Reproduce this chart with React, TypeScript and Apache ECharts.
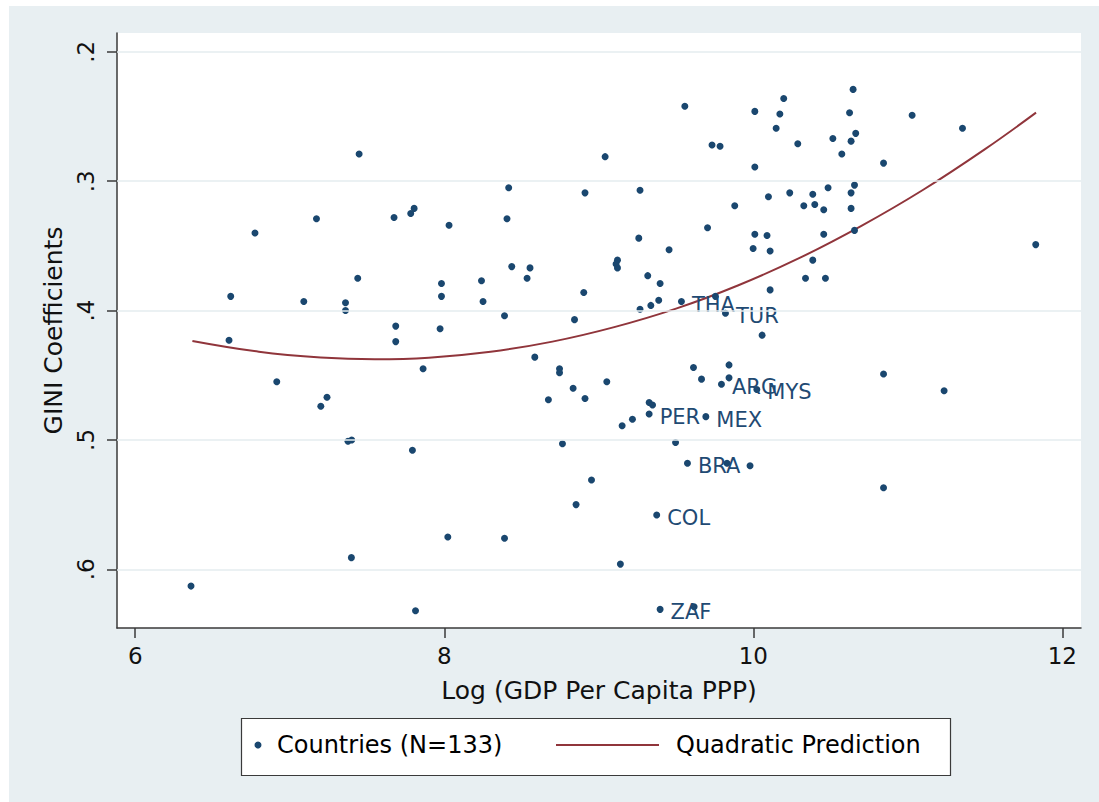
import React, { useEffect, useRef } from "react";
import * as echarts from "echarts";

const FONT = "DejaVu Sans";

const seriesNames = ["Countries (N=133)", "Quadratic Prediction"];
const xTitle = "Log (GDP Per Capita PPP)";
const yTitle = "GINI Coefficients";

const xTicks = [6, 8, 10, 12];
const yTicks = [0.2, 0.3, 0.4, 0.5, 0.6];
const yTickLabels = [".2", ".3", ".4", ".5", ".6"];

// Log GDP per capita (PPP)
const gdp = [
  7.449, 6.775, 7.173, 7.675, 7.783, 7.805, 8.031, 7.44, 6.618, 7.091,
  7.361, 7.361, 7.982, 7.982, 9.557, 10.01, 10.172, 10.148, 9.733, 9.785,
  10.01, 9.041, 8.417, 8.911, 9.267, 10.098, 9.88, 8.406, 9.704, 10.01,
  10.089, 9.999, 10.109, 9.259, 9.455, 8.437, 8.555, 8.536, 8.241, 8.251,
  8.39, 9.121, 9.112, 9.121, 9.317, 9.397, 8.903, 9.388, 9.337, 9.267,
  9.535, 10.109, 8.843, 9.755, 9.82, 10.646, 10.197, 10.623, 11.028, 11.354,
  10.663, 10.515, 10.633, 10.288, 10.573, 10.843, 10.655, 10.236, 10.385, 10.484,
  10.633, 10.327, 10.398, 10.456, 10.633, 10.456, 10.655, 10.385, 10.338, 10.467,
  11.828, 7.686, 7.973, 6.607, 7.686, 7.863, 6.916, 7.241, 7.201, 7.377,
  7.401, 7.794, 8.023, 7.399, 6.361, 7.814, 10.057, 8.586, 8.746, 8.746,
  9.613, 9.843, 9.665, 9.843, 9.794, 10.023, 9.052, 8.834, 8.674, 8.911,
  9.326, 9.348, 9.326, 9.218, 9.151, 9.693, 8.765, 9.497, 9.574, 9.83,
  9.979, 8.953, 8.853, 9.375, 8.39, 9.14, 9.397, 9.617, 10.843, 11.235,
  10.843,
];

// GINI coefficients
const gini = [
  0.279, 0.34, 0.329, 0.328, 0.325, 0.321, 0.334, 0.375, 0.389, 0.393,
  0.394, 0.4, 0.379, 0.389, 0.242, 0.246, 0.248, 0.259, 0.272, 0.273,
  0.289, 0.281, 0.305, 0.309, 0.307, 0.312, 0.319, 0.329, 0.336, 0.341,
  0.342, 0.352, 0.354, 0.344, 0.353, 0.366, 0.367, 0.375, 0.377, 0.393,
  0.404, 0.361, 0.364, 0.367, 0.373, 0.379, 0.386, 0.392, 0.396, 0.399,
  0.393, 0.384, 0.407, 0.389, 0.402, 0.229, 0.236, 0.247, 0.249, 0.259,
  0.263, 0.267, 0.269, 0.271, 0.279, 0.286, 0.303, 0.309, 0.31, 0.305,
  0.309, 0.319, 0.318, 0.322, 0.321, 0.341, 0.338, 0.361, 0.375, 0.375,
  0.349, 0.412, 0.414, 0.423, 0.424, 0.445, 0.455, 0.467, 0.474, 0.501,
  0.5, 0.508, 0.575, 0.591, 0.613, 0.632, 0.419, 0.436, 0.445, 0.448,
  0.444, 0.442, 0.453, 0.452, 0.457, 0.461, 0.455, 0.46, 0.469, 0.468,
  0.471, 0.473, 0.48, 0.484, 0.489, 0.482, 0.503, 0.502, 0.518, 0.518,
  0.52, 0.531, 0.55, 0.558, 0.576, 0.596, 0.631, 0.629, 0.449, 0.462,
  0.537,
];

// Country codes shown as marker labels ("" = unlabelled)
const codes = [
  "", "", "", "", "", "", "", "", "", "",
  "", "", "", "", "", "", "", "", "", "",
  "", "", "", "", "", "", "", "", "", "",
  "", "", "", "", "", "", "", "", "", "",
  "", "", "", "", "", "", "", "", "", "",
  "THA", "", "", "", "TUR", "", "", "", "", "",
  "", "", "", "", "", "", "", "", "", "",
  "", "", "", "", "", "", "", "", "", "",
  "", "", "", "", "", "", "", "", "", "",
  "", "", "", "", "", "", "", "", "", "",
  "", "", "", "", "ARG", "MYS", "", "", "", "",
  "", "", "PER", "", "", "MEX", "", "", "BRA", "",
  "", "", "", "COL", "", "", "ZAF", "", "", "",
  "",
];

// Quadratic prediction curve
const curveGdp = [6.37, 6.8, 7.2, 7.55, 7.9, 8.3, 8.7, 9.1, 9.5, 9.9, 10.3, 10.7, 11.1, 11.5, 11.83];
const curveGini = [0.4235, 0.4318, 0.4362, 0.4376, 0.4364, 0.4318, 0.424, 0.4128, 0.3985, 0.3806, 0.3593, 0.3345, 0.3066, 0.2752, 0.247];

export default function App() {
  const ref = useRef<HTMLDivElement>(null);

  useEffect(() => {
    if (!ref.current) return;
    const chart = echarts.init(ref.current, undefined, { renderer: "svg" });

    const points = gdp.map((x, i) => ({
      value: [x, gini[i]],
      name: codes[i],
      label: { show: codes[i] !== "" },
    }));
    const curve = curveGdp.map((x, i) => [x, curveGini[i]]);

    const axisColor = "#3a3a3a";
    const textColor = "#111";

    chart.setOption({
      animation: false,
      backgroundColor: "#ffffff",
      graphic: [
        {
          type: "rect",
          silent: true,
          z: -10,
          shape: { x: 9, y: 6, width: 1090, height: 796 },
          style: { fill: "#e8eff2" },
        },
        {
          type: "rect",
          silent: true,
          z: 1,
          shape: { x: 241.5, y: 718.5, width: 709, height: 57 },
          style: { fill: "#ffffff", stroke: "#3a3a3a", lineWidth: 1.2 },
        },
      ],
      grid: {
        left: 117,
        top: 33,
        width: 964,
        height: 595,
        show: true,
        backgroundColor: "#ffffff",
        borderWidth: 0,
      },
      legend: [
        {
          data: [{ name: seriesNames[0], icon: "circle" }],
          selectedMode: false,
          left: 254.5,
          top: 731,
          padding: 0,
          itemWidth: 20,
          itemHeight: 7,
          textStyle: { fontFamily: FONT, fontSize: 24, color: "#000", lineHeight: 28, padding: [0, 0, 0, 4] },
          z: 5,
        },
        {
          data: [{ name: seriesNames[1], icon: "rect" }],
          selectedMode: false,
          left: 556,
          top: 731,
          padding: 0,
          itemWidth: 103,
          itemHeight: 2,
          textStyle: { fontFamily: FONT, fontSize: 24, color: "#000", lineHeight: 28, padding: [0, 0, 0, 12] },
          z: 5,
        },
      ],
      xAxis: {
        type: "value",
        min: 5.882,
        max: 12.121,
        axisLine: { show: true, onZero: false, lineStyle: { color: axisColor, width: 1.5 } },
        axisTick: { show: true, length: 10, customValues: xTicks, lineStyle: { color: axisColor, width: 1.5 } },
        axisLabel: { customValues: xTicks, fontFamily: FONT, fontSize: 23, color: textColor, margin: 16 },
        splitLine: { show: false },
        name: xTitle,
        nameLocation: "middle",
        nameGap: 50,
        nameTextStyle: { fontFamily: FONT, fontSize: 25, color: textColor },
      },
      yAxis: {
        type: "value",
        inverse: true,
        min: 0.1854,
        max: 0.6454,
        axisLine: { show: true, onZero: false, lineStyle: { color: axisColor, width: 1.5 } },
        axisTick: { show: true, length: 10, customValues: yTicks, lineStyle: { color: axisColor, width: 1.5 } },
        axisLabel: {
          customValues: yTicks,
          rotate: 90,
          fontFamily: FONT,
          fontSize: 23,
          color: textColor,
          margin: 20,
          formatter: (v: number) => {
            const i = yTicks.findIndex((t) => Math.abs(t - v) < 1e-6);
            return i >= 0 ? yTickLabels[i] : "";
          },
        },
        splitLine: { show: false },
        name: yTitle,
        nameLocation: "middle",
        nameGap: 51,
        nameTextStyle: { fontFamily: FONT, fontSize: 25, color: textColor },
      },
      series: [
        {
          name: "gridlines",
          type: "line",
          data: [],
          z: 1,
          silent: true,
          markLine: {
            silent: true,
            symbol: "none",
            label: { show: false },
            lineStyle: { color: "#e4ecef", width: 1.6, type: "solid" },
            data: yTicks.map((v) => ({ yAxis: v })),
          },
        },
        {
          name: seriesNames[0],
          type: "scatter",
          z: 3,
          symbol: "circle",
          symbolSize: 7,
          itemStyle: { color: "#1a476f", opacity: 1 },
          label: {
            show: false,
            position: "right",
            distance: 7,
            offset: [0, 3],
            formatter: "{b}",
            fontFamily: FONT,
            fontSize: 21,
            color: "#1f4a73",
          },
          emphasis: { disabled: true },
          data: points,
        },
        {
          name: seriesNames[1],
          type: "line",
          z: 2,
          smooth: 0.4,
          symbol: "none",
          showSymbol: false,
          lineStyle: { color: "#90353b", width: 2 },
          itemStyle: { color: "#90353b" },
          emphasis: { disabled: true },
          data: curve,
        },
      ],
    });

    return () => chart.dispose();
  }, []);

  return (
    <div
      ref={ref}
      style={{ position: "absolute", left: 0, top: 0, width: 1099, height: 802 }}
    />
  );
}
